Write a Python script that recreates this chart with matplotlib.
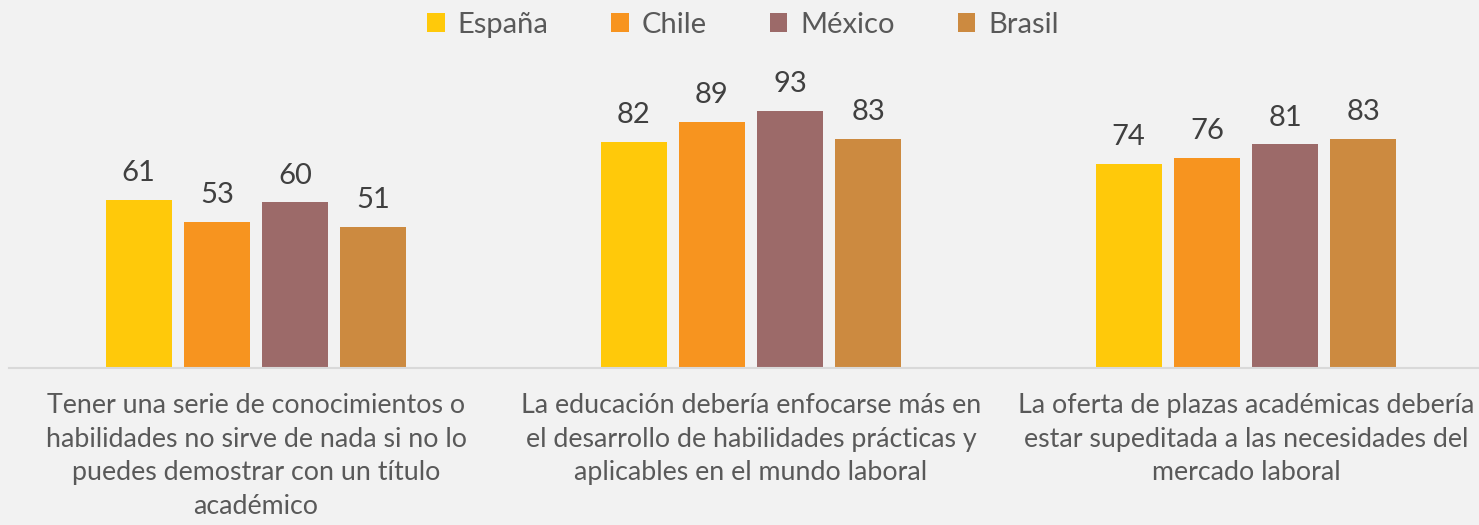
import matplotlib
matplotlib.use("Agg")
import matplotlib.pyplot as plt
from matplotlib.patches import Patch
import numpy as np

categories = [
    "Tener una serie de conocimientos o\nhabilidades no sirve de nada si no lo\npuedes demostrar con un título\nacadémico",
    "La educación debería enfocarse más en\nel desarrollo de habilidades prácticas y\naplicables en el mundo laboral",
    "La oferta de plazas académicas debería\nestar supeditada a las necesidades del\nmercado laboral",
]
series_names = ["España", "Chile", "México", "Brasil"]
espana = [61, 82, 74]
chile = [53, 89, 76]
mexico = [60, 93, 81]
brasil = [51, 83, 83]
series_values = [espana, chile, mexico, brasil]
colors = ["#FFC90A", "#F7941F", "#9C6A69", "#CC8A40"]

plt.rcParams["font.family"] = ["Lato", "DejaVu Sans"]
bg = "#F2F2F2"

W, H = 1479, 525
fig = plt.figure(figsize=(W / 100, H / 100), dpi=100, facecolor=bg)
# plot area extends slightly past the right edge of the canvas
left_px, right_px, bottom_px, top_px = 8.5, 1493.5, 368, 92
ax = fig.add_axes([left_px / W, 1 - bottom_px / H,
                   (right_px - left_px) / W, (bottom_px - top_px) / H])
ax.set_facecolor(bg)

x = np.arange(len(categories))
bar_w = 0.133
pitch = 0.158
offsets = (np.arange(len(series_names)) - 1.5) * pitch
for vals, name, col, off in zip(series_values, series_names, colors, offsets):
    bars = ax.bar(x + off, vals, width=bar_w, color=col, label=name, zorder=2)
    for b, v in zip(bars, vals):
        ax.annotate(f"{v}", (b.get_x() + b.get_width() / 2, v),
                    xytext=(0, 10), textcoords="offset points",
                    ha="center", va="bottom", fontsize=21, color="#404040")

ax.set_xlim(-0.5, len(categories) - 0.5)
ax.set_ylim(0, 100)
ax.set_yticks([])
ax.set_xticks(x)
ax.set_xticklabels(categories, fontsize=19.3, color="#595959", linespacing=1.43)
ax.tick_params(axis="x", length=0, pad=18)
for s in ["top", "right", "left"]:
    ax.spines[s].set_visible(False)
ax.spines["bottom"].set_color("#D9D9D9")
ax.spines["bottom"].set_linewidth(1.5)

handles = [Patch(facecolor=c, label=n) for c, n in zip(colors, series_names)]
fig.legend(handles=handles, loc="center", bbox_to_anchor=(743 / W, 1 - 25 / H),
           ncol=4, frameon=False, fontsize=21, labelcolor="#595959",
           handlelength=0.6, handleheight=0.6, handletextpad=0.45,
           columnspacing=2.15, borderpad=0)

fig.savefig("out.png", dpi=100, facecolor=bg)
